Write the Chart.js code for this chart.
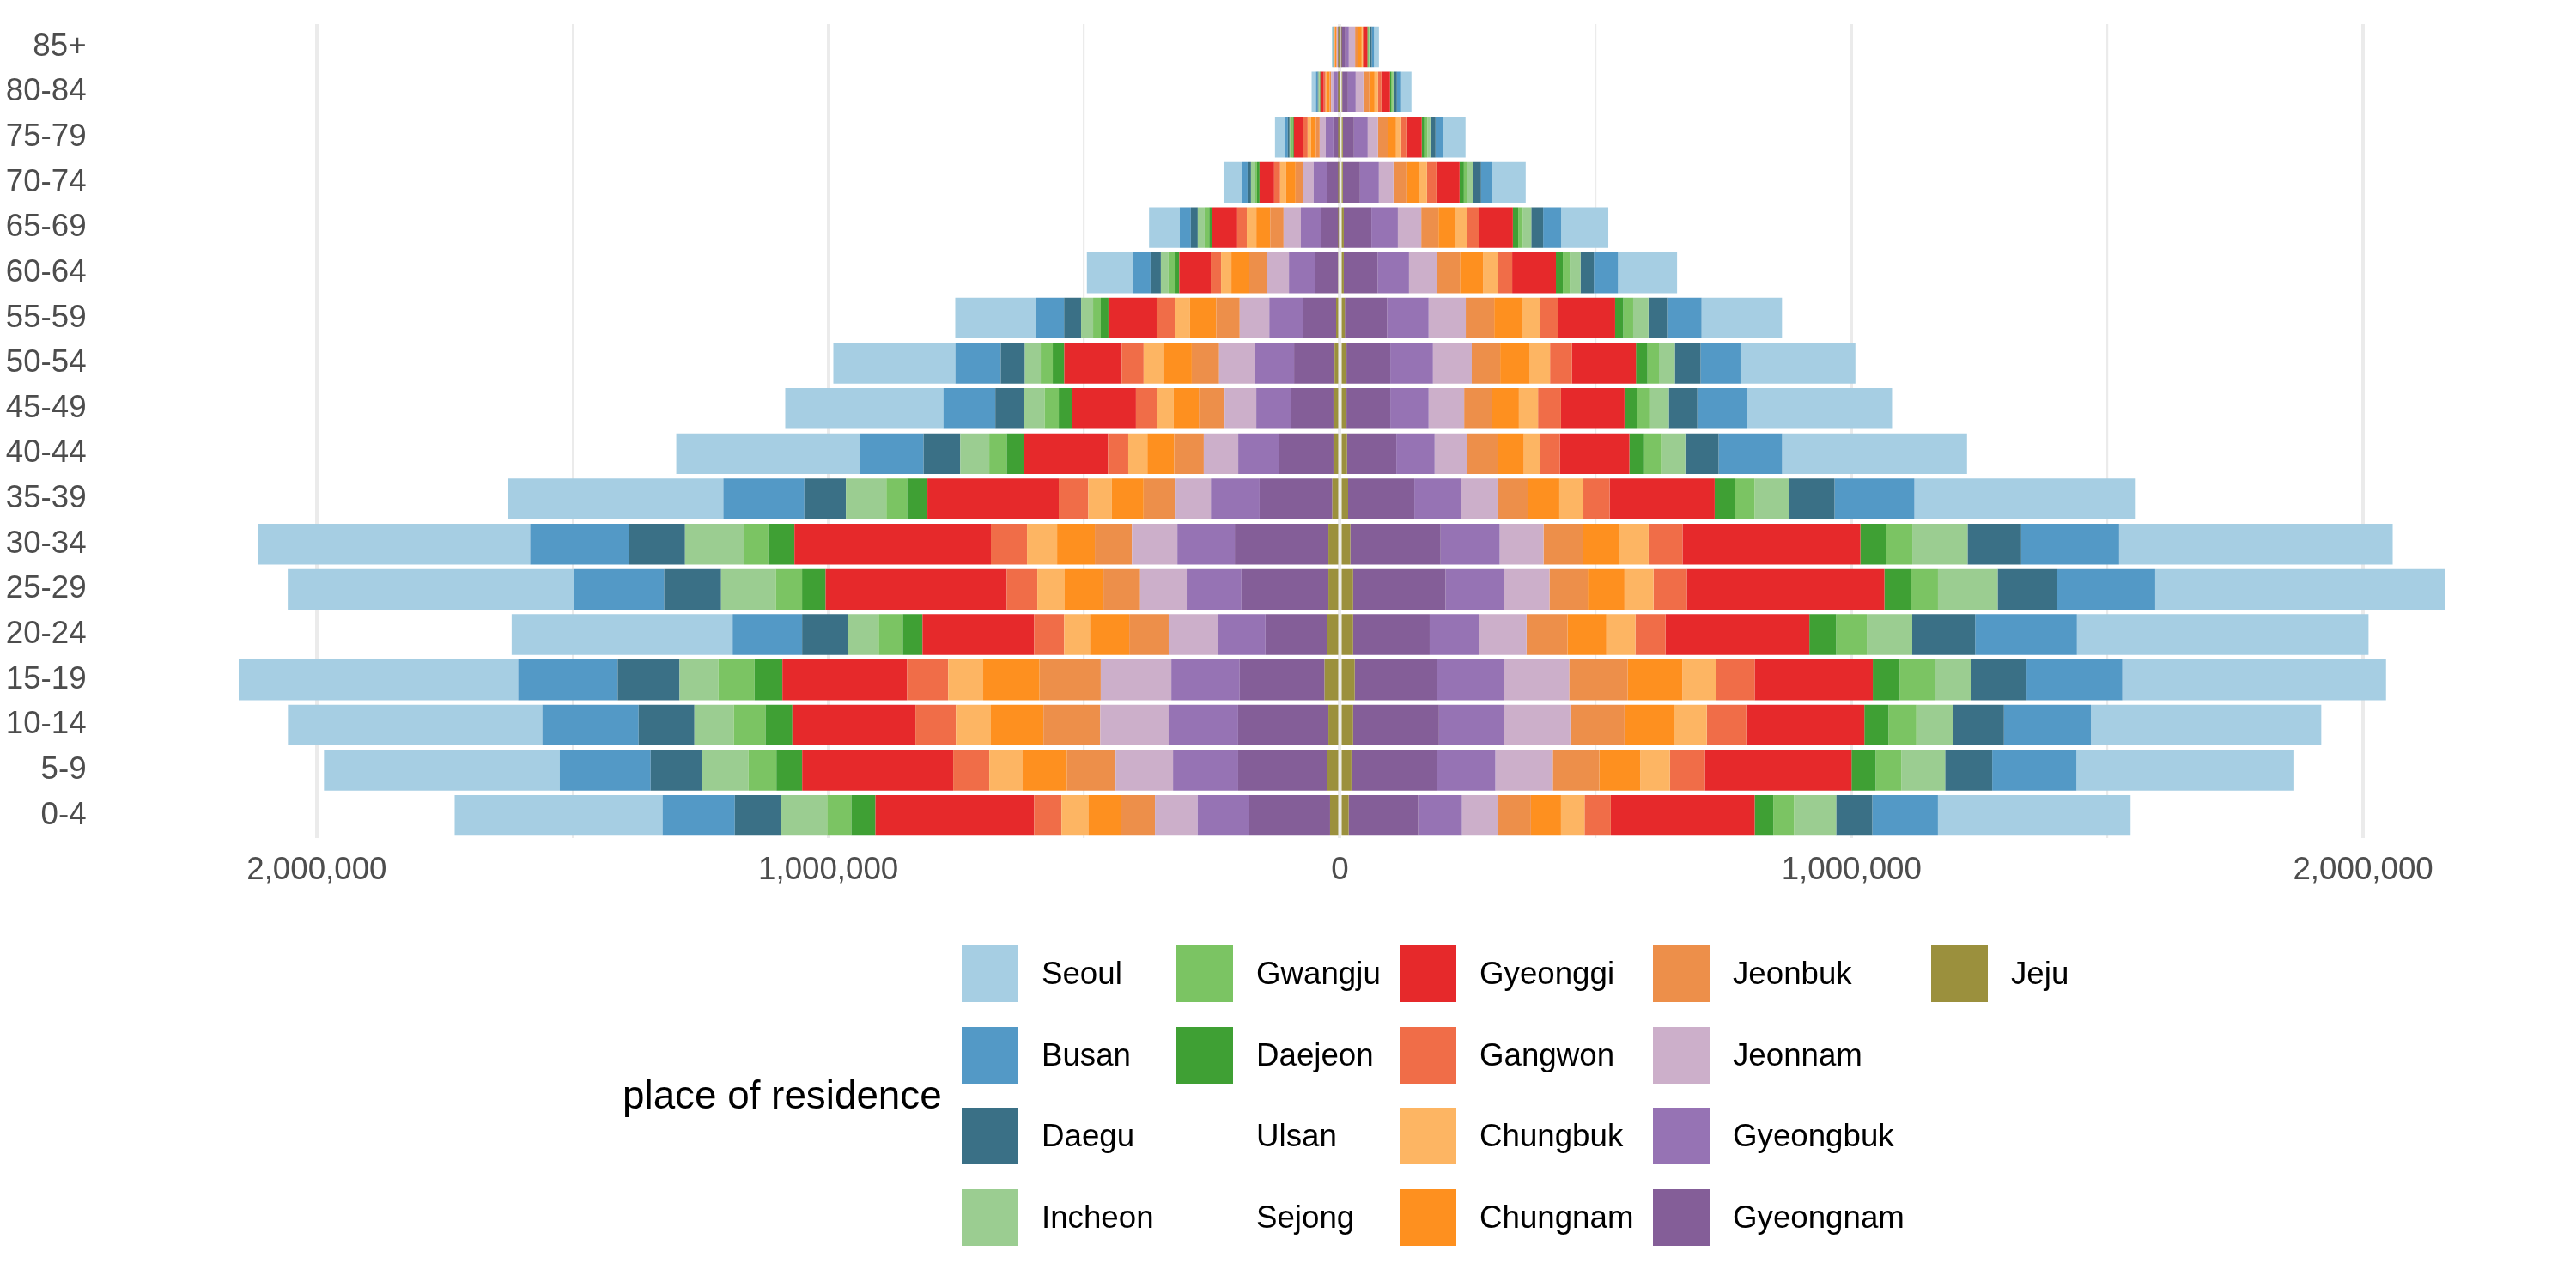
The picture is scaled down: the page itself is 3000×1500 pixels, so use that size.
<!DOCTYPE html>
<html>
<head>
<meta charset="utf-8">
<script src="https://cdn.jsdelivr.net/npm/chart.js@4/dist/chart.umd.min.js"></script>
<style>
html,body{margin:0;padding:0;background:#fff;}
#wrap{position:relative;width:3000px;height:1500px;font-family:"Liberation Sans",Arial,sans-serif;}
#c{position:absolute;left:0;top:0;}
#ltitle{position:absolute;left:725px;top:1101px;height:350px;display:flex;align-items:center;font-size:45.8px;color:#000;white-space:nowrap;}
#keys{position:absolute;left:1120px;top:1101px;display:grid;grid-auto-flow:column;grid-template-rows:repeat(4,66px);grid-template-columns:250px 260px 295px 324px auto;row-gap:28.7px;column-gap:0;}
.item{display:flex;align-items:center;height:66px;}
.sw{width:66px;height:66px;margin-right:27px;flex:none;}
.lab{font-size:36.7px;color:#000;white-space:nowrap;}
</style>
</head>
<body>
<div id="wrap">
<canvas id="c" width="3000" height="1500"></canvas>
<div id="ltitle">place of residence</div>
<div id="keys"></div>
</div>
<script>
// ---- data (persons; left side = male, right side = female) ----
const ageGroups = ["0-4","5-9","10-14","15-19","20-24","25-29","30-34","35-39","40-44","45-49","50-54","55-59","60-64","65-69","70-74","75-79","80-84","85+"];
const regions = ["Seoul","Busan","Daegu","Incheon","Gwangju","Daejeon","Ulsan","Sejong","Gyeonggi","Gangwon","Chungbuk","Chungnam","Jeonbuk","Jeonnam","Gyeongbuk","Gyeongnam","Jeju"];
const regionColors = ["#a6cee3","#5399c6","#3a7086","#9bcd91","#7bc463","#3fa034","rgba(0,0,0,0)","rgba(0,0,0,0)","#e6292b","#f06d48","#fdb563","#fe901f","#ed8f4a","#ccafca","#9673b4","#845e98","#9b903d"];
const xTickValues = [-2000000,-1500000,-1000000,-500000,0,500000,1000000,1500000,2000000];
const xMin = -2368000;
const xMax = 2376000;

const seoulMale   = [406400,461000,497300,546300,432000,559300,532600,420300,358300,309100,238500,157200,90700,60000,35200,20100,8400,1400];
const seoulFemale = [376500,425700,450300,515500,570000,566800,534800,431000,361500,283400,224600,157200,115400,92200,65500,43600,20100,9500];
const busanMale   = [141200,177500,188200,194600,135800,176500,193600,158300,125100,101600,88800,55600,33700,21700,11700,5000,3400,560];
const busanFemale = [128300,164700,170000,187200,198900,192500,191400,156100,124100,97300,78100,67400,47200,35200,21800,15100,8400,4500];
const daeguMale   = [89800,100500,109100,120900,89800,111200,109100,81300,71700,55600,47100,33200,20200,13500,6700,3400,1700,560];
const daeguFemale = [70600,92000,99500,108000,123000,115500,104800,88800,65200,55600,50300,36400,26200,23200,15100,10100,5000,3400];
const incheonMale   = [90900,90900,77000,75900,59900,107000,115500,79100,56700,40600,31000,23500,15000,13500,7800,3400,1700,450];
const incheonFemale = [82300,85600,71700,71700,88800,116600,108000,67400,47100,36400,31000,29900,21000,16500,11700,5600,3400,1700];
const gwangjuMale   = [47100,54500,62000,70600,47100,51300,47100,40600,34200,27800,23500,15000,12000,9000,3900,2800,840,340];
const gwangjuFemale = [40600,50300,54500,68400,59900,53500,51300,38500,33200,25700,22500,19300,13500,9000,6700,6200,2800,1700];
const daejeonMale   = [47100,50300,52400,54500,38500,46000,51300,39600,33200,25700,22500,15000,9000,6000,5000,2200,1100,340];
const daejeonFemale = [36400,47100,47100,52400,52400,51300,50300,39600,28900,24600,22500,16000,13500,10500,8400,5000,2200,1700];
const ulsanMale   = [0,0,0,0,0,0,0,0,0,0,0,0,0,0,0,0,0,0];
const ulsanFemale = [0,0,0,0,0,0,0,0,0,0,0,0,0,0,0,0,0,0];
const sejongMale   = [0,0,0,0,0,0,0,0,0,0,0,0,0,0,0,0,0,0];
const sejongFemale = [0,0,0,0,0,0,0,0,0,0,0,0,0,0,0,0,0,0];
const gyeonggiMale   = [310200,295200,240600,243800,218200,354000,384000,256700,164700,125100,112300,94100,61500,48700,28500,18500,6700,1400];
const gyeonggiFemale = [281300,286600,231000,231000,281300,386100,347600,205300,135800,124100,125100,111200,85500,66700,45300,28500,16800,6700];
const gangwonMale   = [53500,70600,79100,80200,58800,59900,70600,57800,39600,40600,42800,35300,20200,18700,11700,8400,3400,840];
const gangwonFemale = [51300,68400,77000,75900,58800,65200,66300,51300,39600,44900,42800,35300,28500,23200,18500,11700,6700,2800];
const chungbukMale   = [52400,65200,68400,68400,50300,53500,58800,46000,37400,33200,39600,29900,20200,18700,11700,6700,3400,560];
const chungbukFemale = [46000,57800,63600,65200,56700,56700,57800,47100,31000,37400,39600,35300,28500,22500,15100,10100,6700,1700];
const chungnamMale   = [64000,86600,102700,110200,76800,75700,73800,62000,52400,49200,54500,51300,34500,27000,18500,9500,4500,1960];
const chungnamFemale = [58800,80200,97300,107000,75900,71700,70600,62000,51300,53500,57800,54500,45000,33000,23500,16200,10100,6700];
const jeonbukMale   = [66300,95000,111000,119600,77000,71700,72500,61000,57800,50300,53500,46000,34500,26200,15100,7300,2800,1120];
const jeonbukFemale = [64200,90900,105900,114400,80200,74900,77000,58800,58800,53500,55600,55600,44200,33700,26900,19000,11700,6200];
const jeonnamMale   = [83400,112300,133700,138000,97300,91000,88800,70600,67400,62000,69500,57800,43500,33700,20100,11700,6200,1960];
const jeonnamFemale = [70600,112300,130500,128300,92000,88800,85600,70600,64200,69500,75900,72700,55500,45700,28500,20100,15100,12300];
const gyeongbukMale   = [100500,127300,135800,133700,92000,107000,112300,95200,79100,68400,77000,66300,50200,39000,26900,15100,6700,1960];
const gyeongbukFemale = [85600,113400,126200,129400,97300,114400,115500,92000,74900,74900,83400,81300,61500,51700,36900,26900,15100,6700];
const gyeongnamMale   = [158300,174300,176500,165800,120900,170000,182900,142200,107000,82400,79100,64200,45700,35200,22900,11700,3900,1680];
const gyeongnamFemale = [135800,167900,167900,161500,149700,180700,176500,129400,96300,85600,85600,82400,66000,54000,33600,21800,11200,8400];
const jejuMale   = [19300,24600,22500,30000,24600,22500,22500,14800,12600,12600,10500,7500,3700,2200,1700,1100,560,560];
const jejuFemale = [17100,22500,25700,28900,25700,25700,20300,16000,13900,12800,12800,9600,7500,7500,5600,5600,4500,2200];

// ---- build ----
const maleByRegion = [seoulMale,busanMale,daeguMale,incheonMale,gwangjuMale,daejeonMale,ulsanMale,sejongMale,gyeonggiMale,gangwonMale,chungbukMale,chungnamMale,jeonbukMale,jeonnamMale,gyeongbukMale,gyeongnamMale,jejuMale];
const femaleByRegion = [seoulFemale,busanFemale,daeguFemale,incheonFemale,gwangjuFemale,daejeonFemale,ulsanFemale,sejongFemale,gyeonggiFemale,gangwonFemale,chungbukFemale,chungnamFemale,jeonbukFemale,jeonnamFemale,gyeongbukFemale,gyeongnamFemale,jejuFemale];

const FONT = '"Liberation Sans", Arial, sans-serif';
const datasets = [];
// stacking: last region (Jeju) sits at the centre, first (Seoul) outermost
for (let i = regions.length - 1; i >= 0; i--) {
  const common = {backgroundColor: regionColors[i], borderWidth: 0, categoryPercentage: 0.9, barPercentage: 1.0, stack: 'pop'};
  datasets.push(Object.assign({label: regions[i] + ' (male)', data: maleByRegion[i].map(v => -v)}, common));
  datasets.push(Object.assign({label: regions[i] + ' (female)', data: femaleByRegion[i]}, common));
}

// legend (column-major, 4 rows)
const keys = document.getElementById('keys');
regions.forEach((r, i) => {
  const it = document.createElement('div'); it.className = 'item';
  const sw = document.createElement('div'); sw.className = 'sw'; sw.style.background = regionColors[i];
  const lb = document.createElement('div'); lb.className = 'lab'; lb.textContent = r;
  it.appendChild(sw); it.appendChild(lb); keys.appendChild(it);
});

new Chart(document.getElementById('c'), {
  type: 'bar',
  data: {labels: ageGroups, datasets: datasets},
  options: {
    indexAxis: 'y',
    responsive: false,
    animation: false,
    layout: {padding: {top: 28.1, right: 23.9, left: 0, bottom: 0}},
    plugins: {legend: {display: false}, tooltip: {enabled: false}},
    scales: {
      x: {
        type: 'linear', stacked: true, min: xMin, max: xMax,
        afterBuildTicks: s => { s.ticks = xTickValues.map(v => ({value: v})); },
        afterFit: s => { s.height = 524; },
        ticks: {
          autoSkip: false, maxRotation: 0, padding: 16, color: '#4d4d4d',
          font: {family: FONT, size: 36.7},
          callback: v => (v % 1000000 === 0) ? Math.abs(v).toLocaleString('en-US') : ''
        },
        grid: {color: '#ebebeb', drawTicks: false,
          lineWidth: c => (c.tick && c.tick.value % 1000000 === 0) ? 4 : 2.2},
        border: {display: false}
      },
      y: {
        stacked: true, reverse: true,
        afterFit: s => { s.width = 149.6; },
        ticks: {color: '#4d4d4d', font: {family: FONT, size: 36.7}, padding: 0},
        grid: {display: true, drawOnChartArea: false, drawTicks: true, tickLength: 49,
               color: 'rgba(0,0,0,0)', tickColor: 'rgba(0,0,0,0)'},
        border: {display: false}
      }
    }
  }
});
</script>
</body>
</html>
